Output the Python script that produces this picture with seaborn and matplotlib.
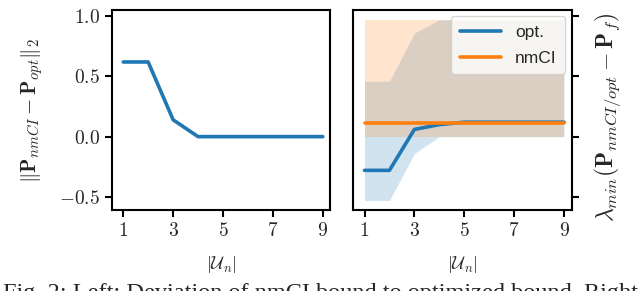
# deviation of nmCI bound vs optimized bound, fig 2

import numpy as np
import matplotlib
matplotlib.use('Agg')
import matplotlib.pyplot as plt
import seaborn as sns

sns.set_style('ticks')
plt.rcParams['font.family'] = 'serif'
plt.rcParams['font.serif'] = ['cmr10', 'DejaVu Serif']
plt.rcParams['mathtext.fontset'] = 'cm'
plt.rcParams['axes.formatter.use_mathtext'] = True
plt.rcParams['axes.unicode_minus'] = True

# data
n_u = [1, 2, 3, 4, 5, 6, 7, 8, 9]
deviation = [0.62, 0.62, 0.14, 0.0, 0.0, 0.0, 0.0, 0.0, 0.0]

opt_mean = [-0.28, -0.28, 0.06, 0.10, 0.12, 0.12, 0.12, 0.12, 0.12]
opt_low = [-0.53, -0.53, -0.14, 0.0, 0.0, 0.0, 0.0, 0.0, 0.0]
opt_high = [0.46, 0.46, 0.86, 0.97, 0.97, 0.97, 0.97, 0.97, 0.97]

nmci_mean = [0.117, 0.117, 0.117, 0.117, 0.117, 0.117, 0.117, 0.117, 0.117]
nmci_low = [0.0, 0.0, 0.0, 0.0, 0.0, 0.0, 0.0, 0.0, 0.0]
nmci_high = [0.97, 0.97, 0.97, 0.97, 0.97, 0.97, 0.97, 0.97, 0.97]

xticks = [1, 3, 5, 7, 9]
yticks = [-0.5, 0.0, 0.5, 1.0]

blue = '#1f77b4'
orange = '#ff7f0e'

fig = plt.figure(figsize=(6.4, 2.91), dpi=100)
ax1 = fig.add_axes([0.175, 0.278, 0.341, 0.687])
ax2 = fig.add_axes([0.552, 0.278, 0.341, 0.687])

# left panel
sns.lineplot(x=n_u, y=deviation, ax=ax1, color=blue, linewidth=2.6)
ax1.set_ylabel(r'$\|\mathbf{P}_{nmCI} - \mathbf{P}_{opt}\|_2$', fontsize=15, labelpad=10)

# right panel
ax2.fill_between(n_u, opt_low, opt_high, color=blue, alpha=0.2, linewidth=0)
ax2.fill_between(n_u, nmci_low, nmci_high, color=orange, alpha=0.2, linewidth=0)
sns.lineplot(x=n_u, y=opt_mean, ax=ax2, color=blue, linewidth=2.6, label='opt.')
sns.lineplot(x=n_u, y=nmci_mean, ax=ax2, color=orange, linewidth=2.6, label='nmCI')
ax2.yaxis.tick_right()
ax2.yaxis.set_label_position('right')
ax2.tick_params(axis='y', labelright=False)
ax2.set_ylabel(r'$\lambda_{min}(\mathbf{P}_{nmCI/opt} - \mathbf{P}_f)$', fontsize=17)
ax2.yaxis.set_label_coords(1.096, 0.465)
leg = ax2.legend(loc='upper right', prop={'family': 'Liberation Sans', 'size': 12.5},
                 framealpha=0.8, handlelength=2.4, borderaxespad=0.35,
                 borderpad=0.5, labelspacing=0.6)

for ax in [ax1, ax2]:
    ax.set_xlim(0.55, 9.3)
    ax.set_ylim(-0.61, 1.05)
    ax.set_xticks(xticks)
    ax.set_yticks(yticks)
    ax.set_xlabel(r'$|\mathcal{U}_n|$', fontsize=13, labelpad=10)
    ax.tick_params(labelsize=14, width=1.5, length=5, color='black')
    for s in ax.spines.values():
        s.set_linewidth(1.5)
        s.set_color('black')

fig.text(0.005, -0.045, 'Fig. 2: Left: Deviation of nmCI bound to optimized bound. Right:',
         family='Liberation Serif', fontsize=17.5, ha='left', va='bottom')

plt.savefig('out.png', dpi=100)
